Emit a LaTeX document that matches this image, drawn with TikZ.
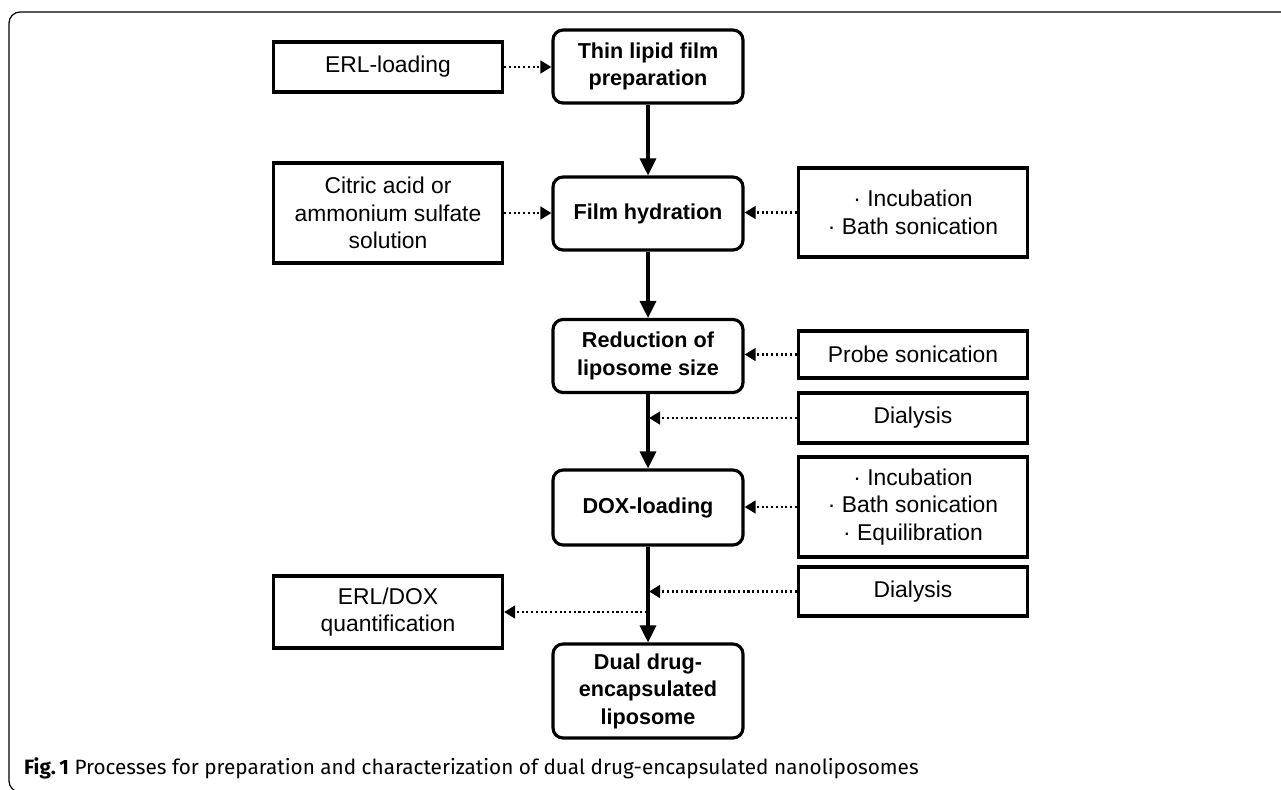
\documentclass[tikz,border=0pt]{standalone}
\usepackage{fontspec}
\setmainfont{Liberation Sans}
\newfontfamily\capfont{Fira Sans}
\usetikzlibrary{arrows.meta, calc, positioning}
\tikzset{> = { Triangle[length = 3.4mm, width = 3.2mm] }}
\tikzset{
	stage/.style = {draw, rounded corners = 0.2cm, line width = 1.8pt, minimum width = 3.8cm, minimum height = 1.46cm, align = center, font = \bfseries\fontsize{12.3}{15.6}\selectfont},
	extra/.style = {draw, line width = 1.8pt, minimum width = 4.58cm, align = center, font = \fontsize{13}{15.8}\selectfont},
	flow/.style = {->, line width = 1.8pt},
	aux/.style = {-{Triangle[length = 2.2mm, width = 2.5mm]}, line width = 1.6pt, dash pattern = on 1.2pt off 1.5pt}
}

\begin{document}
\begin{tikzpicture}[x = 0.02cm, y = -0.02cm]
		\useasboundingbox (0, 0) rectangle (1281, 789);
		\draw [line width = 0.7pt, rounded corners = 0.22cm] (9, 12) rectangle (1320, 792);

		% main stages
		\node [stage] (thin) at (648, 66.5) {Thin lipid film\\preparation};
		\node [stage] (hyd) at (648, 213.5) {Film hydration};
		\node [stage] (red) at (648, 356) {Reduction of\\liposome size};
		\node [stage, minimum height = 1.5cm] (dox) at (648, 507.5) {DOX-loading};
		\node [stage, minimum height = 1.88cm] (dual) at (648, 691) {Dual drug-\\encapsulated\\liposome};

		% side inputs
		\node [extra, minimum height = 1cm] (erl) at (388, 67) {ERL-loading};
		\node [extra, minimum height = 2cm] (citric) at (388, 213) {Citric acid or\\ammonium sulfate\\solution};
		\node [extra, minimum height = 1.78cm] (incub) at (913, 212.5) {\textperiodcentered{} Incubation\\\textperiodcentered{} Bath sonication};
		\node [extra, minimum height = 0.94cm] (probe) at (913, 354.5) {Probe sonication};
		\node [extra, minimum height = 1cm] (dialA) at (913, 418) {Dialysis};
		\node [extra, minimum height = 2cm] (equil) at (913, 507) {\textperiodcentered{} Incubation\\\textperiodcentered{} Bath sonication\\\textperiodcentered{} Equilibration};
		\node [extra, minimum height = 0.98cm] (dialB) at (913, 591.5) {Dialysis};
		\node [extra, minimum height = 1.44cm] (quant) at (388, 612) {ERL/DOX\\quantification};

		\draw [flow] (thin) -- (hyd);
		\draw [flow] (hyd) -- (red);
		\draw [flow] (red) -- (dox);
		\draw [flow] (dox) -- (dual);

		\coordinate (joinA) at (dialA.west -| red.south);
		\coordinate (joinB) at (dialB.west -| dox.south);
		\coordinate (joinQ) at (quant.east -| dual.north);
		\draw [aux] (erl.east) -- (erl.east -| thin.west);
		\draw [aux] (citric.east) -- (citric.east -| hyd.west);
		\draw [aux] (incub.west) -- (incub.west -| hyd.east);
		\draw [aux] (probe.west) -- (probe.west -| red.east);
		\draw [aux] (dialA.west) -- ($(joinA) + (1, 0)$);
		\draw [aux] (equil.west) -- (equil.west -| dox.east);
		\draw [aux] (dialB.west) -- ($(joinB) + (1, 0)$);
		\draw [aux] ($(joinQ) + (-1, 0)$) -- (quant.east);

		\node [anchor = west, font = \capfont\fontsize{11.8}{13}\selectfont] (caption) at (18, 768) {\textbf{Fig.\,1} Processes for preparation and characterization of dual drug-encapsulated nanoliposomes};
	\end{tikzpicture}
\end{document}
